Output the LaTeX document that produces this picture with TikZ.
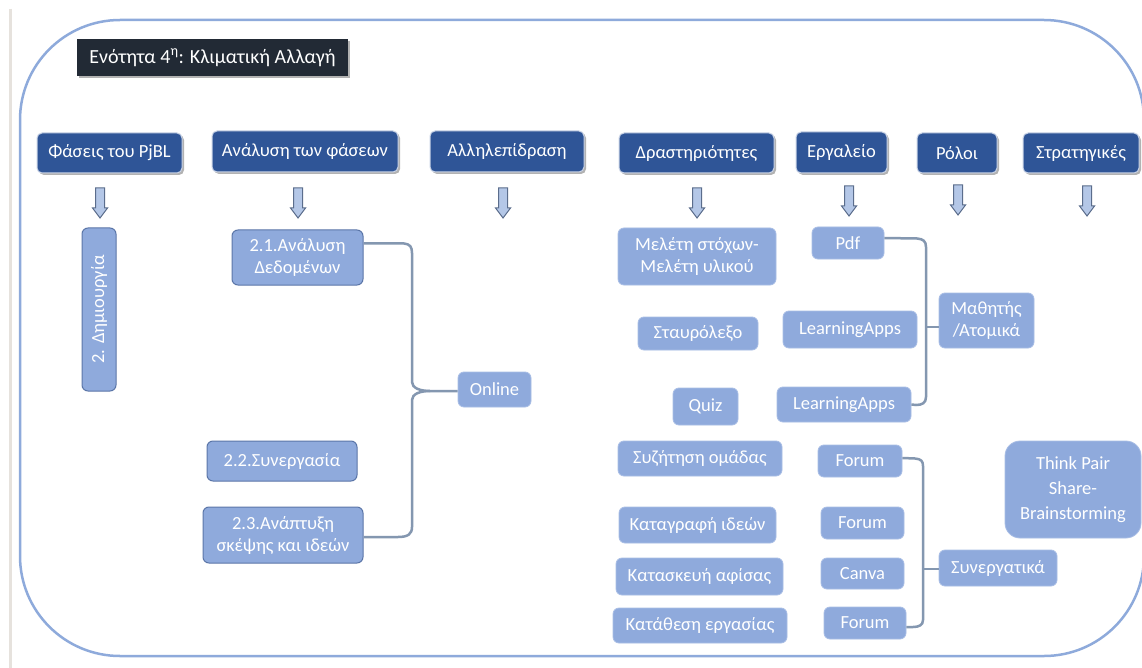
\documentclass[tikz,border=0pt]{standalone}
\usepackage{fontspec}
\setmainfont{Carlito}
\usetikzlibrary{shadows}

\definecolor{headblue}{HTML}{2F5597}
\definecolor{headedge}{HTML}{C9D3E6}
\definecolor{lightbox}{HTML}{8FAADC}
\definecolor{lightedge}{HTML}{A9BEE5}
\definecolor{darkedge}{HTML}{5B76A8}
\definecolor{titlefill}{HTML}{222A35}
\definecolor{linkgray}{HTML}{8497B0}
\definecolor{framecol}{HTML}{8EAADB}
\definecolor{arrfill}{HTML}{B4C7E7}
\definecolor{arredge}{HTML}{5B6D8C}
\definecolor{pageedge}{HTML}{E6E2DD}

\tikzset{
  txt/.style={font=\fontsize{18.5}{22}\selectfont, text=white, align=center, inner sep=0pt},
  headbox/.style={txt, rectangle, rounded corners=5pt, fill=headblue, draw=headedge, line width=1pt,
    drop shadow={shadow xshift=2pt, shadow yshift=-2pt, opacity=0.3, fill=black}},
  titlebox/.style={txt, font=\fontsize{20}{24}\selectfont, rectangle, fill=titlefill,
    drop shadow={shadow xshift=2pt, shadow yshift=-2pt, opacity=0.3, fill=black}},
  lbox/.style={txt, rectangle, rounded corners=6pt, fill=lightbox, draw=lightedge, line width=0.8pt},
  dbox/.style={lbox, draw=darkedge, line width=1pt},
  link/.style={draw=linkgray, line width=2.5pt},
  arrowsty/.style={fill=arrfill, draw=arredge, line width=1pt, line join=miter},
  downarr/.pic={\draw[arrowsty] (-4.5,0) -- (4.5,0) -- (4.5,20) -- (7.5,20) -- (0,30) -- (-7.5,20) -- (-4.5,20) -- cycle;}
}

\begin{document}
\begin{tikzpicture}[x=1pt,y=-1pt]
\useasboundingbox (0,0) rectangle (1142,668);
\fill[white] (0,0) rectangle (1142,668);

% page edge and frame (its right side runs just past the page)
\draw[pageedge, line width=3pt] (10,9) -- (10,668);
\draw[framecol, line width=2.5pt, rounded corners=100pt] (20,20) rectangle (1144,656);

% title
\node[titlebox, minimum width=271pt, minimum height=37pt] (title) at (212.5,57.5)
  {Ενότητα 4\textsuperscript{η}: Κλιματική Αλλαγή};

% column headers
\node[headbox, minimum width=145pt, minimum height=40pt] (h1) at (109.5,153) {Φάσεις του PjBL};
\node[headbox, minimum width=186pt, minimum height=41pt] (h2) at (305,151.5) {Ανάλυση των φάσεων};
\node[headbox, minimum width=154pt, minimum height=41pt] (h3) at (507,151.5) {Αλληλεπίδραση};
\node[headbox, minimum width=155pt, minimum height=40pt] (h4) at (696.5,153) {Δραστηριότητες};
\node[headbox, minimum width=91pt, minimum height=41pt] (h5) at (841.5,152.5) {Εργαλείο};
\node[headbox, minimum width=80pt, minimum height=40pt] (h6) at (957,153) {Ρόλοι};
\node[headbox, minimum width=116pt, minimum height=40pt] (h7) at (1081,153) {Στρατηγικές};

% block arrows under the headers
\pic at (100,188) {downarr};
\pic at (298,188) {downarr};
\pic at (503,188) {downarr};
\pic at (697,188) {downarr};
\pic at (849,186) {downarr};
\pic at (958,185) {downarr};
\pic at (1087,186) {downarr};

% phase
\node[dbox, rotate=90, minimum width=163pt, minimum height=34pt] (d1) at (99,309.5) {2. Δημιουργία};

% analysis of phases
\node[dbox, minimum width=131pt, minimum height=55pt] (a21) at (297.5,257.5) {2.1.Ανάλυση\\Δεδομένων};
\node[dbox, minimum width=150pt, minimum height=40pt] (a22) at (282,461) {2.2.Συνεργασία};
\node[dbox, minimum width=160pt, minimum height=56pt] (a23) at (283,535) {2.3.Ανάπτυξη\\σκέψης και ιδεών};

% interaction
\node[lbox, minimum width=73pt, minimum height=35pt] (onl) at (494.5,389.5) {Online};

% activities
\node[lbox, minimum width=158pt, minimum height=57pt] (m1) at (697,256.5) {Μελέτη στόχων-\\Μελέτη υλικού};
\node[lbox, minimum width=120pt, minimum height=33pt] (m2) at (698,333.5) {Σταυρόλεξο};
\node[lbox, minimum width=65pt, minimum height=37pt] (m3) at (705.5,406.5) {Quiz};
\node[lbox, minimum width=164pt, minimum height=35pt] (m4) at (700,458.5) {Συζήτηση ομάδας};
\node[lbox, minimum width=157pt, minimum height=36pt] (m5) at (697.5,525) {Καταγραφή ιδεών};
\node[lbox, minimum width=167pt, minimum height=37pt] (m6) at (699.5,576.5) {Κατασκευή αφίσας};
\node[lbox, minimum width=174pt, minimum height=35pt] (m7) at (700,625.5) {Κατάθεση εργασίας};

% tools
\node[lbox, minimum width=72pt, minimum height=32pt] (t1) at (848,243) {Pdf};
\node[lbox, minimum width=134pt, minimum height=37pt] (t2) at (850,329.5) {LearningApps};
\node[lbox, minimum width=134pt, minimum height=35pt] (t3) at (844,404.5) {LearningApps};
\node[lbox, minimum width=84pt, minimum height=32pt] (t4) at (860,461) {Forum};
\node[lbox, minimum width=83pt, minimum height=32pt] (t5) at (862.5,523) {Forum};
\node[lbox, minimum width=83pt, minimum height=31pt] (t6) at (862.5,573.5) {Canva};
\node[lbox, minimum width=82pt, minimum height=32pt] (t7) at (865,623) {Forum};

% roles
\node[lbox, minimum width=95pt, minimum height=55pt] (r1) at (986.5,320.5) {Μαθητής\\/Ατομικά};
\node[lbox, minimum width=118pt, minimum height=36pt] (r2) at (998,568) {Συνεργατικά};

% strategies
\node[lbox, rounded corners=15pt, font=\fontsize{18.5}{25}\selectfont, minimum width=136pt, minimum height=97pt] (s1) at (1073,489.5)
  {Think Pair\\Share-\\Brainstorming};

% brace: analysis boxes to Online
\coordinate (bt) at (430,391);
\draw[link] ([yshift=14pt]a21.east) -- (404,243.5) .. controls (410,244) and (412,247) .. (412,253)
  -- (412,382) .. controls (412,388) and (420,391) .. (bt) -- (onl.west |- bt);
\draw[link] (bt) .. controls (420,391) and (412,394) .. (412,400)
  -- (412,527) .. controls (412,534) and (408,537) .. (398,537) -- ([yshift=-2pt]a23.east);

% bracket: individual tools to role
\coordinate (jm) at (926,327);
\draw[link] ([yshift=5pt]t1.east) -- (917,238.5) .. controls (923,239) and (926,241) .. (926,247)
  -- (926,397) .. controls (926,403) and (922,405) .. (916,405) -- (t3.east);
\draw[link] (jm) -- (jm -| r1.west);

% bracket: collaborative tools to role
\coordinate (jc) at (923,569);
\draw[link] ([yshift=3pt]t4.east) -- (915,458.5) .. controls (921,459) and (923,461) .. (923,466)
  -- (923,620) .. controls (923,625) and (919,627) .. (913,627) -- ([yshift=-4pt]t7.east);
\draw[link] (jc) -- (jc -| r2.west);
\end{tikzpicture}
\end{document}
